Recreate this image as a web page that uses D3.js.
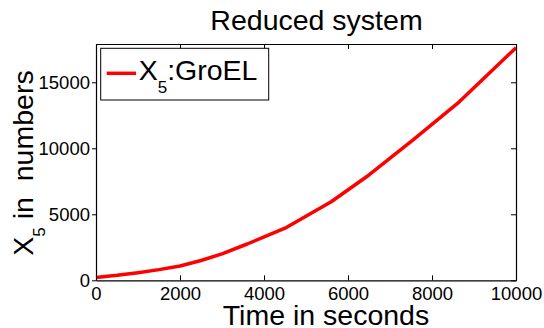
<!DOCTYPE html>
<html>
<head>
<meta charset="utf-8">
<script src="https://cdn.jsdelivr.net/npm/d3@7"></script>
<style>
  html, body { margin: 0; padding: 0; background: #fff; }
  svg { display: block; font-family: "Liberation Sans", Arial, Helvetica, sans-serif; }
</style>
</head>
<body>
<svg id="chart" width="544" height="328"></svg>
<script>
// Simulated GroEL copy number over time (reduced model)
const timeSeconds = [0, 500, 1000, 1500, 2000, 2500, 3000, 3600, 4500, 5600, 6500, 7550, 8650, 10000];
const groELCount  = [220, 380, 580, 810, 1080, 1500, 2000, 2750, 3950, 5950, 7980, 10630, 13520, 17620];

const xTicks = [0, 2000, 4000, 6000, 8000, 10000];
const yTicks = [0, 5000, 10000, 15000];

const titleText = "Reduced system";
const xLabelText = "Time in seconds";
const seriesName = "GroEL";

const svg = d3.select("#chart");
const plot = { left: 96, right: 516, top: 44, bottom: 280.3 };

const x = d3.scaleLinear().domain([0, 10000]).range([plot.left, plot.right]);
const y = d3.scaleLinear().domain([0, 17900]).range([plot.bottom, plot.top]);

const tickFont = "18.5px";
const bigFont = "28.5px";
const plain = d3.format("d");

// Curve
const line = d3.line().x((d, i) => x(timeSeconds[i])).y(d => y(d));
svg.append("path")
  .datum(groELCount)
  .attr("d", line)
  .attr("fill", "none")
  .attr("stroke", "#ff0000")
  .attr("stroke-width", 3.5)
  .attr("stroke-linejoin", "round");

// Axes box with inward ticks on bottom / top / right, outward on left
const gx = svg.append("g").attr("transform", `translate(0,${plot.bottom})`)
  .call(d3.axisBottom(x).tickValues(xTicks).tickFormat(plain).tickSizeInner(-5).tickSizeOuter(0).tickPadding(9));
const gxTop = svg.append("g").attr("transform", `translate(0,${plot.top})`)
  .call(d3.axisTop(x).tickValues(xTicks).tickSizeInner(-5).tickSizeOuter(0).tickFormat(""));
const gy = svg.append("g").attr("transform", `translate(${plot.left},0)`)
  .call(d3.axisLeft(y).tickValues(yTicks).tickFormat(plain).tickSizeInner(4).tickSizeOuter(0).tickPadding(2));
const gyRight = svg.append("g").attr("transform", `translate(${plot.right},0)`)
  .call(d3.axisRight(y).tickValues(yTicks).tickSizeInner(-5).tickSizeOuter(0).tickFormat(""));

[gx, gxTop, gy, gyRight].forEach(g => {
  g.select(".domain").attr("stroke", "#000").attr("stroke-width", 1.2);
  g.selectAll(".tick line").attr("stroke", "#000").attr("stroke-width", 1);
  g.selectAll(".tick text")
    .attr("fill", "#000")
    .style("font-size", tickFont)
    .style("font-family", "'Liberation Sans', Arial, sans-serif");
});
gx.selectAll(".tick text").attr("dy", "0.6em");

// Title
svg.append("text")
  .attr("x", 316.5).attr("y", 30)
  .attr("text-anchor", "middle")
  .style("font-size", bigFont)
  .text(titleText);

// X label
svg.append("text")
  .attr("x", 326).attr("y", 325)
  .attr("text-anchor", "middle")
  .style("font-size", bigFont)
  .text(xLabelText);

// Y label with subscript
const yl = svg.append("text")
  .attr("transform", "translate(33,163) rotate(-90)")
  .attr("text-anchor", "middle")
  .style("font-size", bigFont);
yl.append("tspan").text("X");
yl.append("tspan").attr("dy", 12).style("font-size", "17px").text("5");
yl.append("tspan").attr("dy", -12).text(" in\u00a0\u00a0numbers");

// Legend
const lg = svg.append("g");
lg.append("rect")
  .attr("x", 100.7).attr("y", 48.3)
  .attr("width", 168).attr("height", 51.7)
  .attr("fill", "#fff").attr("stroke", "#000").attr("stroke-width", 1);
lg.append("line")
  .attr("x1", 106.7).attr("x2", 136)
  .attr("y1", 73.3).attr("y2", 73.3)
  .attr("stroke", "#ff0000").attr("stroke-width", 3.5);
const lt = lg.append("text")
  .attr("x", 138.7).attr("y", 79.5)
  .style("font-size", bigFont);
lt.append("tspan").text("X");
lt.append("tspan").attr("dy", 13).style("font-size", "17px").text("5");
lt.append("tspan").attr("dy", -13).text(":" + seriesName);
</script>
</body>
</html>
